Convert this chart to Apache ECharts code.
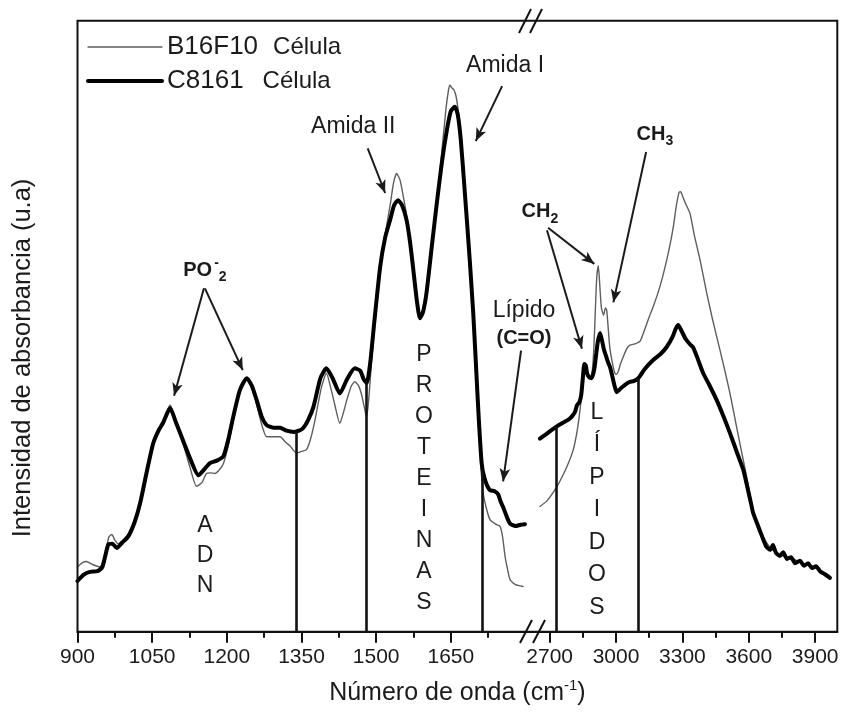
<!DOCTYPE html>
<html>
<head>
<meta charset="utf-8">
<script src="https://cdn.jsdelivr.net/npm/echarts@6/dist/echarts.min.js"></script>
<style>
  html, body { margin: 0; padding: 0; background: #fff; }
  #chart { width: 844px; height: 713px; }
</style>
</head>
<body>
<div id="chart"></div>
<script>
// ---------- spectra (wavenumber cm-1, absorbance a.u.) ----------
const b16f10Low = [
  [900, 10.6], [910, 11.3], [918, 11.5], [930, 11.0], [945, 10.6], [955, 12.5], [963, 15.5], [969, 15.9],
  [975, 15.0], [982, 14.4], [992, 15.0], [1002, 16.0], [1015, 18.3], [1026, 21.4], [1040, 26.7], [1052, 31.0],
  [1062, 33.0], [1072, 34.5], [1086, 37.1], [1098, 34.3], [1112, 30.8], [1126, 26.9], [1139, 23.8], [1150, 24.4],
  [1159, 25.9], [1168, 26.0], [1176, 25.9], [1185, 26.5], [1193, 27.5], [1203, 30.5], [1213, 34.6], [1226, 39.3],
  [1240, 41.4], [1250, 39.8], [1260, 37.1], [1270, 33.9], [1280, 31.9], [1293, 31.9], [1307, 31.9], [1318, 31.0],
  [1327, 30.4], [1340, 29.2], [1350, 29.5], [1360, 29.8], [1368, 31.5], [1377, 34.6], [1390, 40.0], [1400, 42.3],
  [1410, 39.5], [1417, 37.1], [1427, 34.1], [1434, 35.8], [1441, 37.9], [1450, 40.2], [1457, 40.9], [1465, 40.2],
  [1471, 38.7], [1478, 36.0], [1481, 35.2], [1486, 39.0], [1491, 44.5], [1500, 52.5], [1508, 59.2], [1518, 65.0],
  [1528, 69.8], [1535, 73.5], [1541, 75.0], [1548, 73.9], [1555, 71.0], [1561, 68.2], [1568, 64.0], [1574, 59.7],
  [1582, 54.0], [1588, 51.4], [1594, 52.4], [1601, 55.5], [1611, 62.8], [1621, 69.8], [1630, 77.0], [1640, 85.4],
  [1645, 88.5], [1648, 89.5], [1652, 89.0], [1656, 88.7], [1660, 87.8], [1664, 85.8], [1668, 82.9], [1675, 75.0],
  [1682, 68.5], [1688, 60.5], [1695, 52.1], [1704, 37.9], [1710, 27.5], [1715, 22.7], [1722, 20.0], [1729, 18.3],
  [1740, 17.6], [1749, 17.2], [1754, 15.5], [1759, 12.3], [1764, 10.2], [1769, 8.5], [1780, 7.7], [1795, 7.4]
];

const b16f10High = [
  [2656, 20.5], [2690, 21.5], [2732, 23.7], [2760, 25.6], [2785, 27.6], [2807, 29.8], [2825, 33.0], [2838, 36.5],
  [2847, 40.0], [2853, 42.5], [2860, 43.8], [2866, 42.8], [2875, 41.9], [2885, 41.8], [2893, 42.8], [2900, 46.5],
  [2907, 53.0], [2913, 58.0], [2920, 59.9], [2927, 56.5], [2934, 53.0], [2944, 51.8], [2952, 53.0], [2958, 52.6],
  [2964, 50.0], [2972, 46.5], [2982, 44.3], [2993, 42.5], [3000, 42.1], [3010, 42.6], [3020, 43.8], [3033, 45.0],
  [3048, 46.3], [3063, 46.9], [3085, 47.1], [3108, 47.5], [3130, 49.5], [3150, 51.5], [3168, 53.2], [3190, 55.5],
  [3210, 58.0], [3229, 60.8], [3245, 63.5], [3259, 66.3], [3273, 69.8], [3285, 71.9], [3292, 72.0], [3300, 71.4],
  [3315, 70.0], [3334, 68.5], [3355, 64.7], [3380, 60.8], [3410, 55.4], [3435, 51.3], [3455, 48.3], [3485, 43.8],
  [3515, 39.0], [3545, 33.5], [3575, 28.1], [3595, 24.5], [3613, 21.0], [3625, 18.7], [3660, 15.9], [3700, 13.6],
  [3740, 12.6], [3790, 12.1], [3850, 11.0], [3900, 10.6], [3967, 8.9]
];

const c8161Low = [
  [900, 8.3], [912, 9.3], [925, 9.8], [940, 9.9], [950, 10.6], [962, 14.3], [970, 14.4], [979, 13.7],
  [990, 14.6], [1002, 15.6], [1015, 18.0], [1026, 21.1], [1040, 26.5], [1052, 30.8], [1062, 32.8], [1072, 34.2],
  [1086, 36.6], [1098, 34.2], [1112, 31.3], [1128, 28.0], [1143, 25.6], [1155, 26.6], [1166, 27.6], [1180, 28.0],
  [1193, 28.7], [1203, 31.5], [1213, 35.2], [1226, 39.5], [1240, 41.5], [1250, 40.3], [1260, 37.9], [1270, 35.2],
  [1280, 33.8], [1293, 33.4], [1307, 33.4], [1320, 32.9], [1335, 32.7], [1345, 32.9], [1353, 33.3], [1363, 34.6],
  [1374, 36.8], [1388, 41.5], [1400, 43.1], [1413, 41.4], [1427, 39.0], [1442, 41.4], [1457, 43.1], [1468, 42.7],
  [1475, 41.3], [1481, 40.7], [1488, 44.0], [1496, 50.5], [1508, 59.7], [1518, 64.5], [1528, 67.4], [1536, 69.8],
  [1544, 70.6], [1552, 69.8], [1561, 67.4], [1568, 63.8], [1574, 59.7], [1582, 54.0], [1588, 51.3], [1594, 52.3],
  [1601, 55.4], [1611, 62.5], [1621, 69.6], [1632, 76.8], [1642, 82.1], [1650, 85.2], [1658, 85.9], [1664, 84.6],
  [1670, 80.5], [1678, 72.0], [1688, 60.8], [1695, 52.1], [1700, 44.4], [1706, 35.0], [1712, 27.5], [1718, 25.0],
  [1728, 23.2], [1738, 23.0], [1745, 22.5], [1750, 21.3], [1755, 20.4], [1762, 18.9], [1769, 17.7], [1780, 17.3],
  [1790, 17.5], [1799, 17.6]
];

const c8161High = [
  [2656, 31.6], [2680, 32.2], [2705, 32.9], [2732, 33.6], [2760, 34.2], [2785, 34.7], [2800, 35.2], [2815, 36.0],
  [2824, 37.1], [2835, 37.6], [2843, 38.8], [2850, 41.5], [2857, 43.8], [2863, 43.6], [2870, 42.2], [2880, 41.6],
  [2891, 41.5], [2902, 43.0], [2910, 45.3], [2918, 47.5], [2928, 48.9], [2937, 47.6], [2946, 46.1], [2955, 45.1],
  [2964, 44.1], [2973, 43.3], [2982, 42.0], [2993, 40.3], [3003, 39.2], [3015, 39.6], [3027, 40.0], [3048, 40.6],
  [3063, 40.9], [3080, 41.0], [3101, 41.5], [3130, 43.0], [3169, 44.5], [3200, 45.4], [3229, 46.6], [3255, 48.2],
  [3270, 49.6], [3281, 50.2], [3295, 49.3], [3315, 47.9], [3335, 47.0], [3349, 46.5], [3370, 44.6], [3394, 42.3],
  [3420, 40.5], [3455, 37.9], [3485, 35.3], [3515, 32.5], [3545, 29.5], [3575, 26.5], [3595, 23.4], [3610, 21.0],
  [3620, 19.4], [3642, 17.3], [3660, 15.6], [3678, 14.0], [3696, 13.4], [3709, 14.2], [3723, 12.9], [3741, 12.4],
  [3755, 13.0], [3773, 11.9], [3791, 12.2], [3809, 11.2], [3831, 11.6], [3850, 10.8], [3868, 11.2], [3886, 10.4],
  [3904, 10.7], [3922, 9.9], [3944, 9.4], [3967, 8.8]
];

// ---------- axis windows and ticks ----------
const lowRange = [900, 1804];
const highRange = [2600, 4000];
const lowMajorTicks = [900, 1050, 1200, 1350, 1500, 1650];
const lowMinorTicks = [975, 1125, 1275, 1425, 1575, 1725];
const highMajorTicks = [2700, 3000, 3300, 3600, 3900];
const highMinorTicks = [2850, 3150, 3450, 3750];

// ---------- band boundaries: [wavenumber, absorbance where the line meets the curve] ----------
const lowDividers = [[1339, 32.8], [1481, 40.7], [1714, 26.5]];
const highDividers = [[2732, 33.6], [3101, 41.5]];

// ---------- band labels (stacked letters) ----------
const lowBands = [
  { text: 'A\nD\nN', at: [1156, 12.5], lineHeight: 30 },
  { text: 'P\nR\nO\nT\nE\nI\nN\nA\nS', at: [1596, 25.0], lineHeight: 31 }
];
const highBands = [
  { text: 'L\nÍ\nP\nI\nD\nO\nS', at: [2914, 19.9], lineHeight: 32.5 }
];

// ---------- peak assignments: label anchor and arrows [from, to] ----------
const lowNotes = [
  { text: '{b|PO}{sup|-}{sub|2}', at: [1156, 59.2] },
  { text: 'Amida II', at: [1454, 82.6] },
  { text: 'Amida I', at: [1759, 92.6] },
  { text: 'Lípido\n{b|(C=O)}', at: [1797, 50.2] }
];
const lowArrows = [
  [[1154, 56.2], [1094, 38.6]],
  [[1156, 56.2], [1232, 42.8]],
  [[1483, 79.1], [1518, 71.8]],
  [[1753, 89.3], [1700, 80.3]],
  [[1791, 46.0], [1755, 24.6]]
];
const highNotes = [
  { text: '{b|CH}{sub|2}', at: [2656, 68.7] },
  { text: '{b|CH}{sub|3}', at: [3176, 81.4] }
];
const highArrows = [
  [[2693, 66.1], [2902, 60.2]],
  [[2688, 65.7], [2846, 46.3]],
  [[3136, 78.5], [2988, 53.9]]
];

const legendNames = ['B16F10', 'C8161'];
const legendSuffix = 'Célula';
const xTitle = 'Número de onda (cm';
const xTitleSup = '-1';
const yTitle = 'Intensidad de absorbancia (u.a)';

// ---------- layout ----------
const FONT = '"Liberation Sans", Arial, Helvetica, sans-serif';
const INK = '#1b1b1b';
const GRAY = '#5e5e5e';
const BOX = { left: 77.5, top: 20.7, right: 837.3, bottom: 631.7 };
const SPLIT = 527.5;

const chart = echarts.init(document.getElementById('chart'), null, { renderer: 'canvas' });

const richNote = {
  b: { fontFamily: FONT, fontSize: 20, fontWeight: 'bold', color: INK, lineHeight: 28 },
  sup: { fontFamily: FONT, fontSize: 14, fontWeight: 'bold', color: INK, lineHeight: 14, verticalAlign: 'top', padding: [0, 0, 0, 2] },
  sub: { fontFamily: FONT, fontSize: 14, fontWeight: 'bold', color: INK, lineHeight: 14, verticalAlign: 'bottom' }
};

function notePoints(notes, bands) {
  const pts = notes.map(n => ({
    coord: n.at,
    label: {
      show: true, position: 'inside', formatter: n.text,
      color: INK, fontFamily: FONT, fontSize: 23, lineHeight: 27, rich: richNote
    }
  }));
  bands.forEach(b => pts.push({
    coord: b.at,
    label: {
      show: true, position: 'inside', formatter: b.text,
      color: INK, fontFamily: FONT, fontSize: 23, lineHeight: b.lineHeight
    }
  }));
  return {
    silent: true, animation: false,
    symbol: 'rect', symbolSize: 1,
    itemStyle: { color: 'rgba(0,0,0,0)' },
    data: pts
  };
}

function arrowLines(arrows) {
  return {
    silent: true, animation: false,
    symbol: ['none', 'arrow'], symbolSize: [8, 13],
    label: { show: false },
    emphasis: { disabled: true },
    lineStyle: { color: INK, width: 2, type: 'solid', opacity: 1 },
    data: arrows.map(([a, b]) => [{ coord: a }, { coord: b }])
  };
}

function dividerLines(divs) {
  return {
    silent: true, animation: false,
    symbol: ['none', 'none'],
    label: { show: false },
    emphasis: { disabled: true },
    lineStyle: { color: '#111', width: 2.6, type: 'solid', opacity: 1 },
    data: divs.map(([x, top]) => [{ coord: [x, top] }, { coord: [x, 0] }])
  };
}

function curve(name, data, panel, color, width, z, extra) {
  return Object.assign({
    type: 'line', name, data,
    xAxisIndex: panel === 0 ? 0 : 2,
    yAxisIndex: panel,
    symbol: 'none', showSymbol: false,
    smooth: 0.2,
    lineStyle: { color, width, join: 'round', cap: 'round' },
    itemStyle: { color },
    emphasis: { disabled: true },
    z
  }, extra);
}

function bottomAxis(grid, range, values, len, labels) {
  return {
    type: 'value', gridIndex: grid, position: 'bottom',
    min: range[0], max: range[1],
    axisLine: { show: labels, onZero: false, lineStyle: { color: '#111', width: 2 } },
    axisTick: { show: true, inside: false, length: len, customValues: values, lineStyle: { color: '#111', width: 2 } },
    axisLabel: {
      show: labels, customValues: values, margin: 15,
      formatter: v => String(v),
      color: INK, fontFamily: FONT, fontSize: 21
    },
    splitLine: { show: false },
    minorTick: { show: false }
  };
}

const option = {
  animation: false,
  backgroundColor: '#fff',
  grid: [
    { left: BOX.left, top: BOX.top, width: SPLIT - BOX.left, height: BOX.bottom - BOX.top, outerBoundsMode: 'none' },
    { left: SPLIT, top: BOX.top, width: BOX.right - SPLIT, height: BOX.bottom - BOX.top, outerBoundsMode: 'none' }
  ],
  xAxis: [
    bottomAxis(0, lowRange, lowMajorTicks, 11, true),
    bottomAxis(0, lowRange, lowMinorTicks, 6, false),
    bottomAxis(1, highRange, highMajorTicks, 11, true),
    bottomAxis(1, highRange, highMinorTicks, 6, false)
  ],
  yAxis: [
    { type: 'value', gridIndex: 0, min: 0, max: 100, show: false },
    { type: 'value', gridIndex: 1, min: 0, max: 100, show: false }
  ],
  legend: {
    data: legendNames,
    orient: 'vertical',
    left: 86, top: 34, padding: 0,
    itemWidth: 74, itemHeight: 14, itemGap: 8,
    selectedMode: false,
    lineStyle: { width: 'inherit' },
    itemStyle: { opacity: 0 },
    formatter: name => `{n|${name}}{g${name === 'C8161' ? '2' : '1'}|}{c|${legendSuffix}}`,
    textStyle: {
      color: INK, fontFamily: FONT,
      rich: {
        n: { fontSize: 26, lineHeight: 30, color: INK, fontFamily: FONT },
        g1: { width: 15 },
        g2: { width: 19 },
        c: { fontSize: 24, lineHeight: 30, color: INK, fontFamily: FONT }
      }
    }
  },
  series: [
    curve('B16F10', b16f10Low, 0, GRAY, 1.4, 2, { markLine: dividerLines(lowDividers) }),
    curve('B16F10', b16f10High, 1, GRAY, 1.4, 2, { markLine: dividerLines(highDividers) }),
    curve('C8161', c8161Low, 0, '#000', 4, 3, { markLine: arrowLines(lowArrows), markPoint: notePoints(lowNotes, lowBands) }),
    curve('C8161', c8161High, 1, '#000', 4, 3, { markLine: arrowLines(highArrows), markPoint: notePoints(highNotes, highBands) })
  ],
  graphic: [
    // frame around both panels
    {
      type: 'rect', silent: true, z: 10,
      shape: { x: BOX.left, y: BOX.top, width: BOX.right - BOX.left, height: BOX.bottom - BOX.top },
      style: { fill: 'none', stroke: '#111', lineWidth: 2 }
    },
    // axis-break marks, bottom and top
    { type: 'line', silent: true, z: 11, shape: { x1: 520, y1: 643, x2: 532, y2: 620 }, style: { stroke: '#111', lineWidth: 2 } },
    { type: 'line', silent: true, z: 11, shape: { x1: 533, y1: 643, x2: 545, y2: 620 }, style: { stroke: '#111', lineWidth: 2 } },
    { type: 'line', silent: true, z: 11, shape: { x1: 519, y1: 33, x2: 531, y2: 9 }, style: { stroke: '#111', lineWidth: 2 } },
    { type: 'line', silent: true, z: 11, shape: { x1: 530, y1: 33, x2: 542, y2: 9 }, style: { stroke: '#111', lineWidth: 2 } },
    // axis titles
    {
      type: 'text', silent: true, x: (BOX.left + BOX.right) / 2, y: 693,
      style: {
        text: `{t|${xTitle}}{s|${xTitleSup}}{t|)}`,
        align: 'center', verticalAlign: 'middle',
        rich: {
          t: { fontFamily: FONT, fontSize: 25, lineHeight: 30, fill: INK },
          s: { fontFamily: FONT, fontSize: 15, lineHeight: 15, fill: INK, verticalAlign: 'top' }
        }
      }
    },
    {
      type: 'text', silent: true, x: 23, y: 358, rotation: Math.PI / 2,
      style: {
        text: yTitle, align: 'center', verticalAlign: 'middle',
        fontFamily: FONT, fontSize: 25.5, fill: INK
      }
    }
  ]
};

chart.setOption(option);
</script>
</body>
</html>
